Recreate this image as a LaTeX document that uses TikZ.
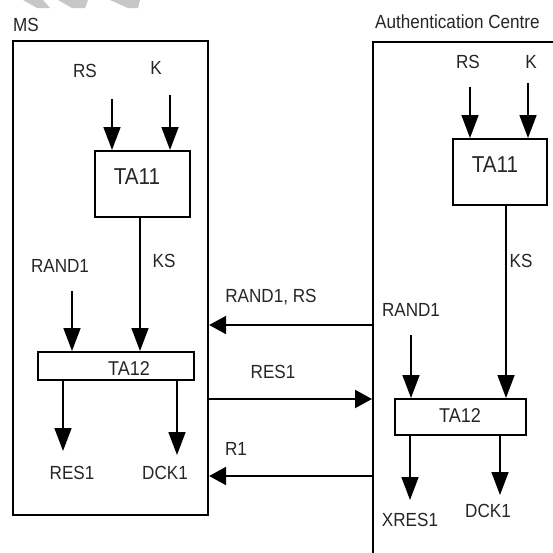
\documentclass[tikz,border=0pt]{standalone}
\usepackage{fontspec}
\setmainfont{Liberation Sans}[FakeStretch=0.9]
\usetikzlibrary{arrows.meta}
\begin{document}
\begin{tikzpicture}[x=1pt,y=-1pt,
  lbl/.style={font=\fontsize{19}{19}\selectfont, text=black!85, inner sep=0pt},
  talbl/.style={font=\fontsize{23}{23}\selectfont, text=black!85, inner sep=0pt},
  tblbl/.style={font=\fontsize{20}{20}\selectfont, text=black!85, inner sep=0pt},
  bigbox/.style={draw, line width=2.2pt, inner sep=0pt},
  tabox/.style={draw, line width=2pt, inner sep=0pt},
  arr/.style={line width=1.6pt, -{Triangle[length=23pt,width=17pt]}},
  harr/.style={line width=2pt, -{Triangle[length=17pt,width=18pt]}},
  wm/.style={fill=black!22, draw=none}]
\clip (0,0) rectangle (553,552);
\fill[white] (0,0) rectangle (553,552);
% watermark remnants
\fill[wm] (23,0) -- (43,0) -- (50,8) -- (37,8) -- cycle;
\fill[wm] (58,0) -- (88,0) -- (85,8) -- (72,8) -- cycle;
\fill[wm] (110,0) -- (140,0) -- (138,8) -- (128,8) -- cycle;
% outer boxes
\node[bigbox, minimum width=195pt, minimum height=474pt] (ms) at (110.5,278) {};
\node[lbl, anchor=west] (mslbl) at (13,25) {MS};
\node[bigbox, anchor=north west, minimum width=250pt, minimum height=560pt] (auc) at (372,41) {};
\node[lbl, anchor=west] (auclbl) at (375,22) {Authentication Centre};
% MS side
\node[tabox, minimum width=95pt, minimum height=66pt] (ta11L) at (142.5,184) {};
\node[talbl] (ta11Lt) at (137,177) {TA11};
\node[tabox, minimum width=156pt, minimum height=28pt] (ta12L) at (116,366) {};
\node[tblbl] (ta12Lt) at (129,369) {TA12};
\node[lbl] (rsL) at (85,71) {RS};
\node[lbl] (kL) at (156,68) {K};
\node[lbl] (ksL) at (164,261) {KS};
\node[lbl] (randL) at (60,266) {RAND1};
\node[lbl] (resL) at (72,473) {RES1};
\node[lbl] (dckL) at (165,473) {DCK1};
\coordinate (rsLs) at (112,99);
\coordinate (kLs) at (170,95);
\coordinate (ksLx) at (140,0);
\coordinate (randLs) at (72,291);
\coordinate (resLe) at (63,451);
\coordinate (dckLe) at (177,455);
\draw[arr] (rsLs) -- (rsLs |- ta11L.north);
\draw[arr] (kLs) -- (kLs |- ta11L.north);
\draw[arr] (ksLx |- ta11L.south) -- (ksLx |- ta12L.north);
\draw[arr] (randLs) -- (randLs |- ta12L.north);
\draw[arr] (resLe |- ta12L.south) -- (resLe);
\draw[arr] (dckLe |- ta12L.south) -- (dckLe);
% AuC side
\node[tabox, minimum width=94pt, minimum height=66pt] (ta11R) at (500,172) {};
\node[talbl] (ta11Rt) at (495,165) {TA11};
\node[tabox, minimum width=131pt, minimum height=36pt] (ta12R) at (460.5,417) {};
\node[tblbl] (ta12Rt) at (460,416) {TA12};
\node[lbl] (rsR) at (468,62) {RS};
\node[lbl] (kR) at (531,62) {K};
\node[lbl] (ksR) at (521,261) {KS};
\node[lbl] (randR) at (411,310) {RAND1};
\node[lbl] (xresR) at (410,520) {XRES1};
\node[lbl] (dckR) at (488,511) {DCK1};
\coordinate (rsRs) at (470,87);
\coordinate (kRs) at (528,83);
\coordinate (ksRx) at (506,0);
\coordinate (randRs) at (411,335);
\coordinate (xresRe) at (410,500);
\coordinate (dckRe) at (500,495);
\draw[arr] (rsRs) -- (rsRs |- ta11R.north);
\draw[arr] (kRs) -- (kRs |- ta11R.north);
\draw[arr] (ksRx |- ta11R.south) -- (ksRx |- ta12R.north);
\draw[arr] (randRs) -- (randRs |- ta12R.north);
\draw[arr] (xresRe |- ta12R.south) -- (xresRe);
\draw[arr] (dckRe |- ta12R.south) -- (dckRe);
% messages between
\coordinate (y1) at (0,325);
\coordinate (y2) at (0,399);
\coordinate (y3) at (0,476);
\draw[harr] (auc.west |- y1) -- (ms.east |- y1);
\draw[harr] (ms.east |- y2) -- (auc.west |- y2);
\draw[harr] (auc.west |- y3) -- (ms.east |- y3);
\node[lbl] (m1) at (271,297) {RAND1, RS};
\node[lbl] (m2) at (273,372) {RES1};
\node[lbl] (m3) at (236,449) {R1};
\end{tikzpicture}
\end{document}
